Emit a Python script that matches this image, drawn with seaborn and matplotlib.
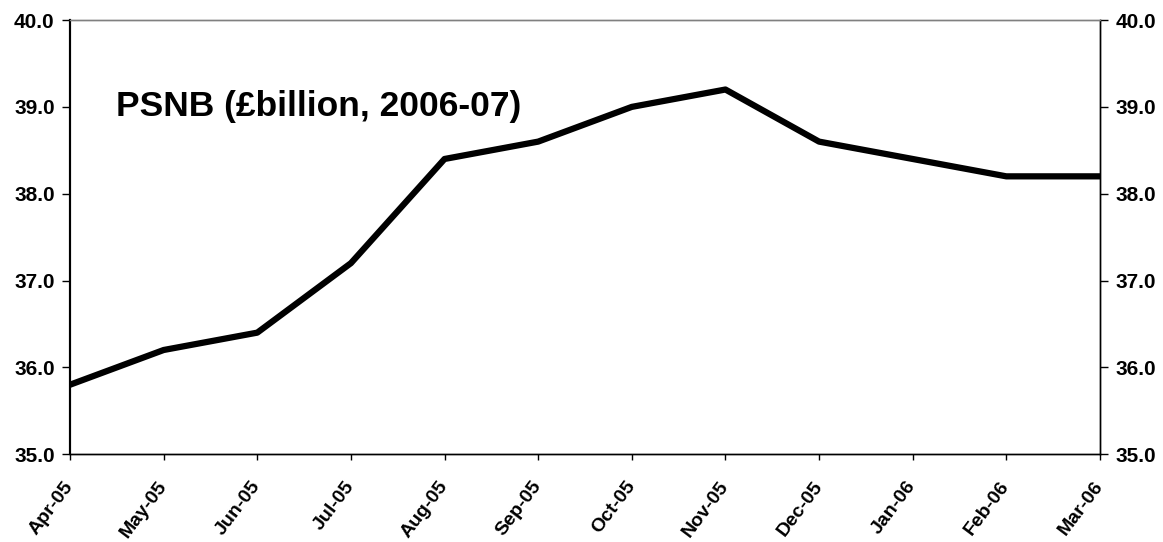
import pandas as pd
import numpy as np
import matplotlib.pyplot as plt
import seaborn as sns

months = ["Apr-05", "May-05", "Jun-05", "Jul-05", "Aug-05", "Sep-05",
          "Oct-05", "Nov-05", "Dec-05", "Jan-06", "Feb-06", "Mar-06"]
psnb = [35.8, 36.2, 36.4, 37.2, 38.4, 38.6, 39.0, 39.2, 38.6, 38.4, 38.2, 38.2]
yticks = [35.0, 36.0, 37.0, 38.0, 39.0, 40.0]

df = pd.DataFrame({"month": months, "psnb": psnb, "pos": np.arange(len(months))})

sns.set_style("white")
plt.rcParams['font.family'] = ['Liberation Sans', 'DejaVu Sans']
plt.rcParams['text.color'] = 'black'
plt.rcParams['xtick.color'] = 'black'
plt.rcParams['ytick.color'] = 'black'

fig = plt.figure(figsize=(11.63, 5.42), dpi=100)
ax = fig.add_axes([0.0602, 0.162, 0.8856, 0.801])
sns.lineplot(x="pos", y="psnb", data=df, color='black', linewidth=4.5, ax=ax)

ax.set_xlim(0, len(months) - 1)
ax.set_ylim(35, 40)
ax.set_xticks(df["pos"])
ax.set_xticklabels(months, rotation=53, ha='right', va='center', rotation_mode='anchor',
                   fontsize=14, fontweight='bold')
ax.set_yticks(yticks)
ax.set_yticklabels([f"{v:.1f}" for v in yticks], fontsize=15, fontweight='bold')
ax.set(xlabel="", ylabel="")
ax.tick_params(axis='y', direction='out', length=6, width=1, color='black',
               labelcolor='black', left=True, pad=5)
ax.tick_params(axis='x', direction='out', length=4, width=1, color='black',
               labelcolor='black', bottom=True, pad=17)

ax2 = ax.twinx()
ax2.set_ylim(35, 40)
ax2.set_yticks(yticks)
ax2.set_yticklabels([f"{v:.1f}" for v in yticks], fontsize=15, fontweight='bold')
ax2.tick_params(axis='y', direction='out', length=6, width=1, color='black',
                labelcolor='black', right=True, pad=5)

for a in (ax, ax2):
    a.spines['left'].set_color('black')
    a.spines['left'].set_linewidth(1.5)
    a.spines['bottom'].set_color('black')
    a.spines['bottom'].set_linewidth(1)
    a.spines['right'].set_color('black')
    a.spines['right'].set_linewidth(1)
    a.spines['top'].set_color('gray')
    a.spines['top'].set_linewidth(1)

ax.text(0.045, 0.80, "PSNB (£billion, 2006-07)", transform=ax.transAxes,
        fontsize=25.5, fontweight='bold', va='center', ha='left', color='black')

fig.savefig('out.png', dpi=100)
plt.close(fig)
